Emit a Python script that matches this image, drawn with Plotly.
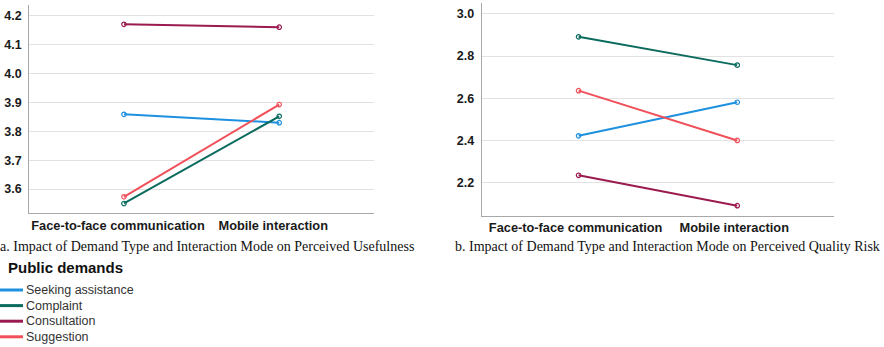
import plotly.graph_objects as go

# Interaction modes (x categories)
modes = ["Face-to-face communication", "Mobile interaction"]

# Demand types and their colours
demands = ["Seeking assistance", "Complaint", "Consultation", "Suggestion"]
colors = ["#1e90e0", "#0b6b5e", "#9b1b50", "#f0505a"]

# Estimated marginal means: perceived usefulness
usefulness = {
    "Seeking assistance": [3.859, 3.830],
    "Complaint": [3.550, 3.852],
    "Consultation": [4.171, 4.161],
    "Suggestion": [3.573, 3.893],
}

# Estimated marginal means: perceived quality risk
quality_risk = {
    "Seeking assistance": [2.422, 2.581],
    "Complaint": [2.891, 2.757],
    "Consultation": [2.235, 2.091],
    "Suggestion": [2.636, 2.400],
}

fig = go.Figure()

for name, col in zip(demands, colors):
    for data, xa, ya in ((usefulness, "x", "y"), (quality_risk, "x2", "y2")):
        fig.add_trace(go.Scatter(
            x=modes, y=data[name], xaxis=xa, yaxis=ya, name=name,
            mode="lines+markers", showlegend=False,
            line=dict(color=col, width=2),
            marker=dict(symbol="circle-open", size=4.5, color=col, line=dict(width=1.2)),
        ))

axis_common = dict(
    showline=True, linecolor="#a8a8a8", linewidth=1.2,
    ticks="", zeroline=False,
)
bold_x = dict(family="Liberation Sans, Arial, sans-serif", size=12.8,
              color="#1a1a1a", weight="bold")
bold_y = dict(family="Liberation Sans, Arial, sans-serif", size=12.5,
              color="#1a1a1a", weight="bold")

fig.update_layout(
    width=884, height=347,
    margin=dict(l=0, r=0, t=0, b=0),
    paper_bgcolor="white", plot_bgcolor="white",
    xaxis=dict(domain=[0.0331, 0.423], type="category", range=[-0.61, 1.61],
               showgrid=False, anchor="y", ticklabelshift=-6, ticklabelstandoff=0,
               tickfont=bold_x, **axis_common),
    yaxis=dict(domain=[0.3853, 0.9856], range=[3.516, 4.238], dtick=0.1, tick0=3.6,
               tickformat=".1f", showgrid=True, gridcolor="#e2e2e2", gridwidth=1,
               anchor="x", ticklabelstandoff=4, tickfont=bold_y, **axis_common),
    xaxis2=dict(domain=[0.545, 0.9435], type="category", range=[-0.61, 1.61],
                showgrid=False, anchor="y2", ticklabelshift=-3, ticklabelstandoff=0,
                tickfont=bold_x, **axis_common),
    yaxis2=dict(domain=[0.3775, 0.9905], range=[2.042, 3.05], dtick=0.2, tick0=2.2,
                tickformat=".1f", showgrid=True, gridcolor="#e2e2e2", gridwidth=1,
                anchor="x2", ticklabelstandoff=4, tickfont=bold_y, **axis_common),
)

caption_font = dict(family="Liberation Serif, Times New Roman, serif", size=14, color="#111")
fig.add_annotation(text="a. Impact of Demand Type and Interaction Mode on Perceived Usefulness",
                   xref="paper", yref="paper", x=207 / 884, y=1 - 246 / 347,
                   xanchor="center", yanchor="middle", showarrow=False, font=caption_font)
fig.add_annotation(text="b. Impact of Demand Type and Interaction Mode on Perceived Quality Risk",
                   xref="paper", yref="paper", x=667 / 884, y=1 - 246.5 / 347,
                   xanchor="center", yanchor="middle", showarrow=False, font=caption_font)

# Legend block below the left panel
fig.add_annotation(text="Public demands", xref="paper", yref="paper",
                   x=6 / 884, y=1 - 267 / 347, xanchor="left", yanchor="middle",
                   showarrow=False,
                   font=dict(family="Liberation Sans, Arial, sans-serif", size=15,
                             color="#111", weight="bold"))
row_y = [290, 305.6, 321.2, 336.8]
for name, col, py in zip(demands, colors, row_y):
    yp = 1 - py / 347
    fig.add_shape(type="line", xref="paper", yref="paper",
                  x0=0, x1=23 / 884, y0=yp, y1=yp, line=dict(color=col, width=3))
    fig.add_annotation(text=name, xref="paper", yref="paper", x=24 / 884, y=yp,
                       xanchor="left", yanchor="middle", showarrow=False,
                       font=dict(family="Liberation Sans, Arial, sans-serif", size=12.5,
                                 color="#333"))

fig.write_html("out.html")
